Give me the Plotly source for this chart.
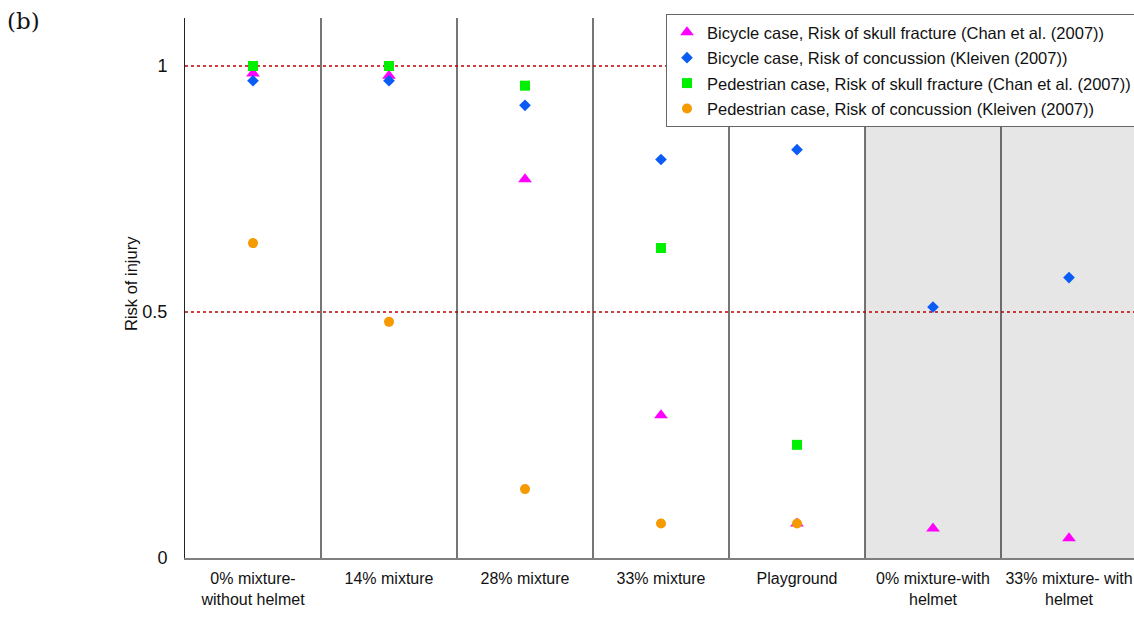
import plotly.graph_objects as go

# Scenario categories along the x axis
categories = [
    "0% mixture-<br>without helmet",
    "14% mixture",
    "28% mixture",
    "33% mixture",
    "Playground",
    "0% mixture-with<br>helmet",
    "33% mixture- with<br>helmet",
]

# Risk of injury for each series (None = not evaluated)
bicycle_skull = [0.985, 0.98, 0.77, 0.29, 0.07, 0.06, 0.04]
bicycle_concussion = [0.97, 0.97, 0.92, 0.81, 0.83, 0.51, 0.57]
pedestrian_skull = [1.0, 1.0, 0.96, 0.63, 0.23, None, None]
pedestrian_concussion = [0.64, 0.48, 0.14, 0.07, 0.07, None, None]

y_tick_vals = [0, 0.5, 1]
y_tick_text = ["0", "0.5", "1"]
threshold_levels = [1.0, 0.5]
helmet_start = 5  # first helmeted category index

xs = list(range(len(categories)))

series = [
    ("Bicycle case, Risk of skull fracture (Chan et al. (2007))", bicycle_skull, "triangle-up", "#ff00ff", 12),
    ("Bicycle case, Risk of concussion (Kleiven (2007))", bicycle_concussion, "diamond", "#0a5cf5", 9),
    ("Pedestrian case, Risk of skull fracture (Chan et al. (2007))", pedestrian_skull, "square", "#00f000", 10),
    ("Pedestrian case, Risk of concussion (Kleiven (2007))", pedestrian_concussion, "circle", "#f59a00", 10),
]

fig = go.Figure()
for i, (name, vals, sym, col, size) in enumerate(series):
    fig.add_trace(go.Scatter(
        x=xs, y=vals, mode="markers", name=name,
        legendgroup=f"g{i}",
        marker=dict(symbol=sym, color=col, size=size, line=dict(width=0)),
    ))

shapes = []
# shaded background for helmeted scenarios
shapes.append(dict(type="rect", xref="x", yref="paper",
                   x0=helmet_start - 0.5, x1=len(categories) - 0.5, y0=0, y1=1,
                   fillcolor="#e6e6e6", line=dict(width=0), layer="below"))
# category separators
for k in range(len(categories) - 1):
    shapes.append(dict(type="line", xref="x", yref="paper",
                       x0=k + 0.5, x1=k + 0.5, y0=0, y1=1,
                       line=dict(color="#1a1a1a", width=1.2), layer="below"))
# dotted threshold lines
for lvl in threshold_levels:
    shapes.append(dict(type="line", xref="paper", yref="y",
                       x0=0, x1=1, y0=lvl, y1=lvl,
                       line=dict(color="#c00000", width=1.5, dash="dot"), layer="below"))

plot_left, plot_right = 185, 1134
cat_px = 136
x_max = -0.5 + (plot_right - plot_left) / cat_px
plot_w = plot_right - plot_left

fig.update_layout(
    width=1134, height=618,
    margin=dict(l=185, r=0, t=18, b=60, autoexpand=False),
    paper_bgcolor="white", plot_bgcolor="white",
    font=dict(family="Liberation Sans, Arial, sans-serif", color="#111111"),
    shapes=shapes,
    showlegend=True,
    legend=dict(
        x=(666 - plot_left) / plot_w, xanchor="left",
        y=1.0075, yanchor="top",
        bgcolor="white", bordercolor="#666666", borderwidth=1,
        font=dict(size=16.5, color="#111111"),
        tracegroupgap=1, itemsizing="trace",
    ),
    xaxis=dict(
        range=[-0.5, x_max], tickmode="array", tickvals=xs, ticktext=categories,
        showgrid=False, zeroline=False, ticks="", automargin=False,
        ticklabeloverflow="allow",
        showline=True, linecolor="#7f7f7f", linewidth=2,
        tickfont=dict(size=16, color="#111111"), ticklabelstandoff=5,
    ),
    yaxis=dict(
        range=[0, 540 / 492], tickmode="array", tickvals=y_tick_vals, ticktext=y_tick_text,
        showgrid=False, zeroline=False, ticks="", automargin=False,
        showline=True, linecolor="#222222", linewidth=1,
        tickfont=dict(size=18, color="#111111"), ticklabelstandoff=13,
    ),
    annotations=[
        dict(text="(b)", xref="paper", yref="paper",
             x=-180 / plot_w, y=1 + 12 / 540,
             xanchor="left", yanchor="top", showarrow=False,
             font=dict(family="DejaVu Serif, Liberation Serif, serif", size=23, color="#111111")),
        # y-axis title
        dict(text="Risk of injury", xref="paper", yref="paper",
             x=(131 - plot_left) / plot_w, y=(558 - 284) / 540,
             xanchor="center", yanchor="middle", textangle=-90, showarrow=False,
             font=dict(size=16.5, color="#111111")),
    ],
)

fig.write_html("out.html")
